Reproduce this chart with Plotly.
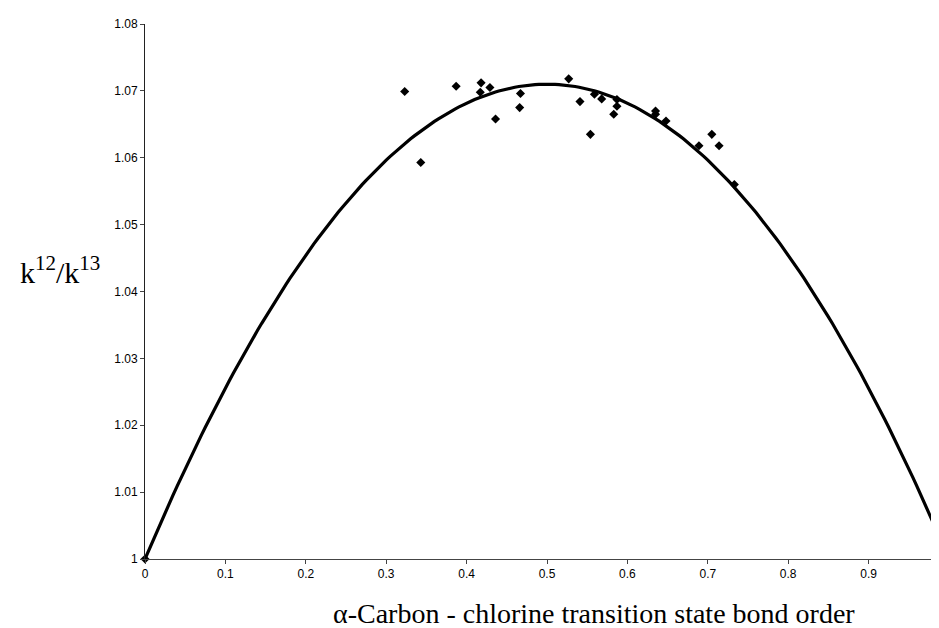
import numpy as np
import plotly.graph_objects as go

# Measured isotope effects vs bond order
bond_order = [0.0, 0.323, 0.343, 0.387, 0.417, 0.418, 0.429, 0.436, 0.466, 0.467,
              0.527, 0.541, 0.554, 0.559, 0.568, 0.583, 0.587, 0.587, 0.635, 0.635,
              0.648, 0.689, 0.705, 0.714, 0.733]
kie = [1.0, 1.0699, 1.0593, 1.0707, 1.0698, 1.0712, 1.0705, 1.0658, 1.0675, 1.0696,
       1.0718, 1.0684, 1.0635, 1.0695, 1.0688, 1.0665, 1.0677, 1.0687, 1.0670, 1.0665,
       1.0655, 1.0618, 1.0635, 1.0618, 1.0560]

# Polynomial trendline y = c0 + c1*x + c2*x^2
trend_coef = [1.0, 0.284, -0.284]

x_ticks = [0, 0.1, 0.2, 0.3, 0.4, 0.5, 0.6, 0.7, 0.8, 0.9]
x_tick_text = ["0", "0.1", "0.2", "0.3", "0.4", "0.5", "0.6", "0.7", "0.8", "0.9"]
y_ticks = [1.0, 1.01, 1.02, 1.03, 1.04, 1.05, 1.06, 1.07, 1.08]
y_tick_text = ["1", "1.01", "1.02", "1.03", "1.04", "1.05", "1.06", "1.07", "1.08"]

xc = np.linspace(0, 1, 201)
yc = trend_coef[0] + trend_coef[1] * xc + trend_coef[2] * xc ** 2

fig = go.Figure()
fig.add_trace(go.Scatter(x=xc, y=yc, mode="lines",
                         line=dict(color="black", width=3.2), hoverinfo="skip"))
fig.add_trace(go.Scatter(x=bond_order, y=kie, mode="markers", cliponaxis=False,
                         marker=dict(symbol="diamond", size=7, color="black")))

axis_font = dict(family="Liberation Sans, Arial, sans-serif", size=12, color="black")
fig.update_layout(
    width=939, height=628,
    margin=dict(l=137, r=0, t=16, b=77),
    paper_bgcolor="white", plot_bgcolor="white",
    showlegend=False,
    xaxis=dict(range=[0, 0.9975], tickvals=x_ticks, ticktext=x_tick_text,
               showgrid=False, zeroline=False, showline=True, linecolor="#444",
               linewidth=1, ticks="outside", ticklen=4, tickcolor="#444",
               tickfont=axis_font),
    yaxis=dict(range=[1.0, 1.08], tickvals=y_ticks, ticktext=y_tick_text,
               showgrid=False, zeroline=False, showline=True, linecolor="#222",
               linewidth=1, ticks="outside", ticklen=4, tickcolor="#444",
               tickfont=axis_font),
    annotations=[
        dict(text="k<sup>12</sup>/k<sup>13</sup>", xref="paper", yref="paper",
             x=-137/802 + 52/802, y=(628 - 77 - 262) / 535, xanchor="center", yanchor="middle",
             showarrow=False,
             font=dict(family="Liberation Serif, Times New Roman, serif", size=30, color="black")),
        dict(text="α-Carbon - chlorine transition state bond order", xref="paper", yref="paper",
             x=(586 - 137) / 802, y=-(605 - 551) / 535, xanchor="center", yanchor="middle",
             showarrow=False,
             font=dict(family="Liberation Serif, Times New Roman, serif", size=28, color="black")),
    ],
)

fig.write_html("out.html")
